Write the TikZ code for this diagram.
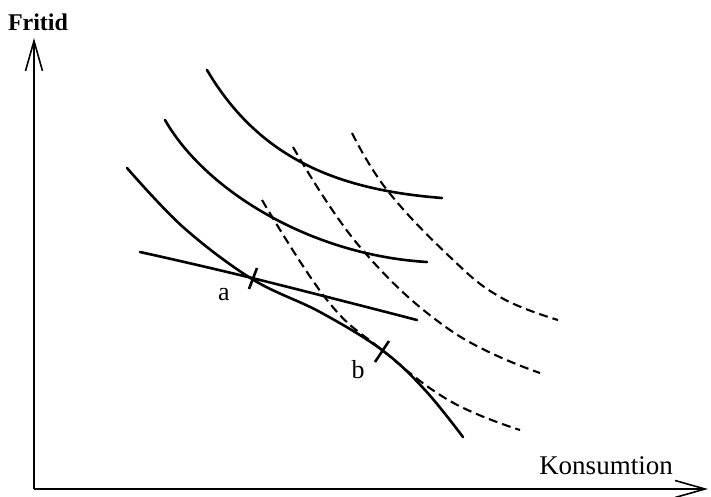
\documentclass[tikz,border=0pt]{standalone}
\usepackage{fontspec}
\setmainfont{Liberation Serif}
\usetikzlibrary{arrows.meta}
\begin{document}
\begin{tikzpicture}[x=1pt,y=-1pt,
  axis/.style={line width=1.8pt,-{Straight Barb[length=30pt,width=17pt,line width=1.6pt]}},
  indiff/.style={line width=2.6pt,line cap=round},
  dashcurve/.style={line width=2.1pt,dash pattern=on 9pt off 5pt},
  tickmark/.style={line width=2.6pt},
  lbl/.style={font=\fontsize{26}{28}\selectfont},
  lblk/.style={font=\fontsize{27}{30}\selectfont},
  lblb/.style={font=\fontsize{24}{26}\selectfont\bfseries}]
\useasboundingbox (0,0) rectangle (711,496);
\coordinate (O) at (34,489);
\coordinate (Ytop) at (34,38);
\coordinate (Xend) at (708,489);
\draw[axis] (O) -- (Ytop);
\draw[axis] (O) -- (Xend);
\node[lblb] (fritid) at (38,22) {Fritid};
\node[lblk] (kons) at (606,466) {Konsumtion};
% solid indifference curves
\draw[indiff] (207,70) .. controls (260,160) and (340,190) .. (442,198);
\draw[indiff] (165,120) .. controls (205,190) and (310,255) .. (427,262);
\draw[indiff] plot[smooth,tension=0.6] coordinates {(127,168) (183,227) (252,279) (320,312) (382,350) (425,390) (463,437)};
% budget line
\draw[indiff] plot[smooth,tension=0.7] coordinates {(140,252) (252,278) (417,320)};
% dashed curves
\draw[dashcurve] plot[smooth,tension=0.7] coordinates {(262,200) (327,300) (382,350) (450,401) (520,430)};
\draw[dashcurve] plot[smooth,tension=0.7] coordinates {(293,147) (360,247) (450,330) (540,373)};
\draw[dashcurve] plot[smooth,tension=0.7] coordinates {(352,133) (387,190) (450,257) (500,297) (558,320)};
% tick marks
\coordinate (a1) at (249,289);
\coordinate (a2) at (257,268);
\coordinate (b1) at (375,362);
\coordinate (b2) at (389,341);
\draw[tickmark] (a1) -- (a2);
\draw[tickmark] (b1) -- (b2);
\node[lbl] (la) at (224,295) {a};
\node[lbl] (lb) at (358,370) {b};
\end{tikzpicture}
\end{document}
